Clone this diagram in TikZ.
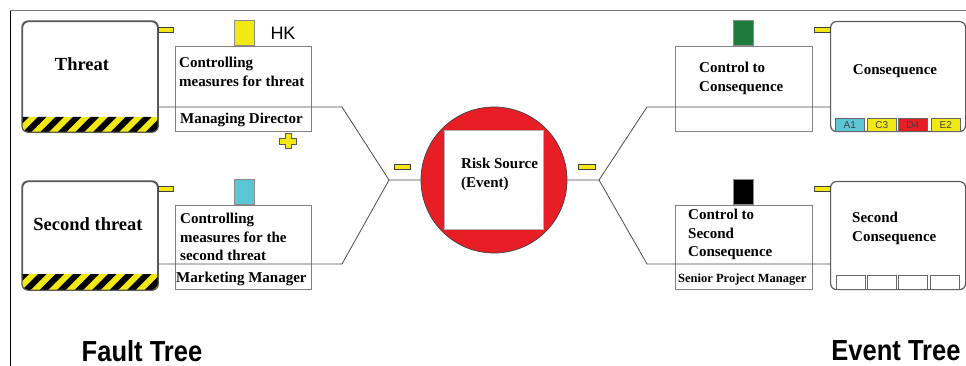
\documentclass[tikz,border=0pt]{standalone}
\usepackage{fontspec}
\setmainfont{Liberation Serif}
\setsansfont{Liberation Sans}
\definecolor{hkyellow}{RGB}{242,232,20}
\definecolor{hkcyan}{RGB}{92,197,214}
\definecolor{hkgreen}{RGB}{30,122,60}
\definecolor{hkred}{RGB}{232,30,38}
\begin{document}
\begin{tikzpicture}[x=1pt,y=-1pt,
  tab/.style={fill=hkyellow, draw=black!75, line width=0.6pt, inner sep=0pt, anchor=north west},
  cbox/.style={draw=black!50, line width=1pt, fill=white, inner sep=0pt, anchor=north west},
  tbox/.style={draw=black!65, line width=1.2pt, rounded corners=6pt, fill=white, inner sep=0pt, anchor=north west},
  sq/.style={draw=black!45, line width=0.6pt, inner sep=0pt, minimum width=20, minimum height=25, anchor=south west},
  cell/.style={draw=black!60, line width=0.7pt, inner sep=0pt, minimum width=29, minimum height=13, anchor=north west, font=\sffamily\fontsize{10}{10}\selectfont, text=black!75},
  conn/.style={draw=black!70, line width=0.8pt},
  lbl/.style={font=\bfseries\fontsize{15}{18.5}\selectfont, align=left, inner sep=0pt, anchor=north west},
  big/.style={font=\bfseries\fontsize{18.5}{22}\selectfont, inner sep=0pt},
  foot/.style={font=\sffamily\bfseries\fontsize{29}{32}\selectfont, inner sep=0pt, xscale=0.88}
]
\useasboundingbox (0,0) rectangle (966,366);
% frame
\draw[black, line width=1pt] (10,366) -- (10,11);
\draw[black!55, line width=1pt] (10,11) -- (966,11);

% threat boxes with hatch band
\node[tbox, minimum width=135, minimum height=110] (t1) at (22,21) {};
\node[tbox, minimum width=135, minimum height=108] (t2) at (22,181) {};
\foreach \b/\y in {t1/117, t2/274} {
  \begin{scope}
    \clip[rounded corners=6pt] (\b.north west) rectangle (\b.south east);
    \fill[hkyellow] (22,\y) rectangle (157,\y+16);
    \foreach \i in {-1,...,8}
      \fill[black] ({22+\i*17.5},\y+16) -- ++(8.5,0) -- ++(16,-16) -- ++(-8.5,0) -- cycle;
  \end{scope}
  \draw[black!65, line width=1.2pt, rounded corners=6pt] (\b.north west) rectangle (\b.south east);
}

% consequence boxes
\node[tbox, minimum width=135, minimum height=110] (e1) at (830,21) {};
\node[tbox, minimum width=135, minimum height=108] (e2) at (830,181) {};

% control boxes
\node[cbox, minimum width=136, minimum height=85] (c1) at (175,46) {};
\node[cbox, minimum width=136, minimum height=84] (c2) at (175,205) {};
\node[cbox, minimum width=137, minimum height=85] (c3) at (675,46) {};
\node[cbox, minimum width=137, minimum height=84] (c4) at (675,205) {};

% coloured squares
\node[sq, fill=hkyellow] (s1) at (234,46) {};
\node[sq, fill=hkcyan] (s2) at (234,205) {};
\node[sq, fill=hkgreen] (s3) at (733,46) {};
\node[sq, fill=black] (s4) at (733,205) {};

% risk source
\node[circle, fill=hkred, draw=black!75, line width=0.7pt, minimum size=146, inner sep=0pt] (risk) at (494,180) {};
\node[draw=black!30, fill=white, minimum size=99, inner sep=0pt] (rsq) at (493.5,179.5) {};

% connectors
\coordinate (jl) at (389,180);
\coordinate (jr) at (599,180);
\coordinate (bl1) at (342,107);
\coordinate (bl2) at (342,264);
\coordinate (br1) at (647,107);
\coordinate (br2) at (647,264);
\draw[conn] (t1.east |- bl1) -- (bl1) -- (jl) -- (risk);
\draw[conn] (t2.east |- bl2) -- (bl2) -- (jl);
\draw[conn] (risk) -- (jr) -- (br1) -- (e1.west |- br1);
\draw[conn] (jr) -- (br2) -- (e2.west |- br2);

% tabs
\node[tab, minimum width=15, minimum height=5] (tab1) at (158,27) {};
\node[tab, minimum width=15, minimum height=5] (tab2) at (158,186) {};
\node[tab, minimum width=16, minimum height=5] (tab3) at (394,164) {};
\node[tab, minimum width=17, minimum height=5] (tab4) at (578,164) {};
\node[tab, minimum width=16, minimum height=5] (tab5) at (814,27) {};
\node[tab, minimum width=16, minimum height=5] (tab6) at (814,186) {};

% plus sign
\coordinate (plus) at (288,141);
\draw[fill=hkyellow, draw=black!65, line width=0.6pt] (plus)
  +(-3,-7.5) -- +(3,-7.5) -- +(3,-3) -- +(8.5,-3) -- +(8.5,3) -- +(3,3) -- +(3,7.5)
  -- +(-3,7.5) -- +(-3,3) -- +(-8.5,3) -- +(-8.5,-3) -- +(-3,-3) -- cycle;

% cells
\node[cell, fill=hkcyan] (a1) at (835,118) {A1};
\node[cell, fill=hkyellow] (c3c) at (867,118) {C3};
\node[cell, fill=hkred] (d4) at (898,118) {D4};
\node[cell, fill=hkyellow] (e2c) at (931,118) {E2};
\node[cell, fill=white, minimum height=14] (x1) at (836,275) {};
\node[cell, fill=white, minimum height=14] (x2) at (867,275) {};
\node[cell, fill=white, minimum height=14] (x3) at (898,275) {};
\node[cell, fill=white, minimum height=14] (x4) at (930,275) {};

% texts
\node[big] (tt1) at (82,64) {Threat};
\node[big] (tt2) at (88,224) {Second threat};
\node[lbl] (ct1) at (179,57) {Controlling\\measures for threat};
\node[lbl] (m1) at (180,113) {Managing Director};
\node[lbl] (ct2) at (180,213) {Controlling\\measures for the\\second threat};
\node[lbl] (m2) at (176,272) {Marketing Manager};
\node[lbl] (rt) at (461,158) {Risk Source\\(Event)};
\node[lbl] (ct3) at (699,62) {Control to\\Consequence};
\node[lbl, anchor=center] (et1) at (895,71) {Consequence};
\node[lbl] (ct4) at (688,209) {Control to\\Second\\Consequence};
\node[lbl, font=\bfseries\fontsize{12.5}{14}\selectfont] (m4) at (678,274) {Senior Project Manager};
\node[lbl] (et2) at (852,212) {Second\\Consequence};
\node[font=\sffamily\fontsize{18}{18}\selectfont, inner sep=0pt] (hk) at (283,33) {HK};
\node[foot] (ft) at (142,351) {Fault Tree};
\node[foot] (evt) at (896,351) {Event Tree};
\end{tikzpicture}
\end{document}
